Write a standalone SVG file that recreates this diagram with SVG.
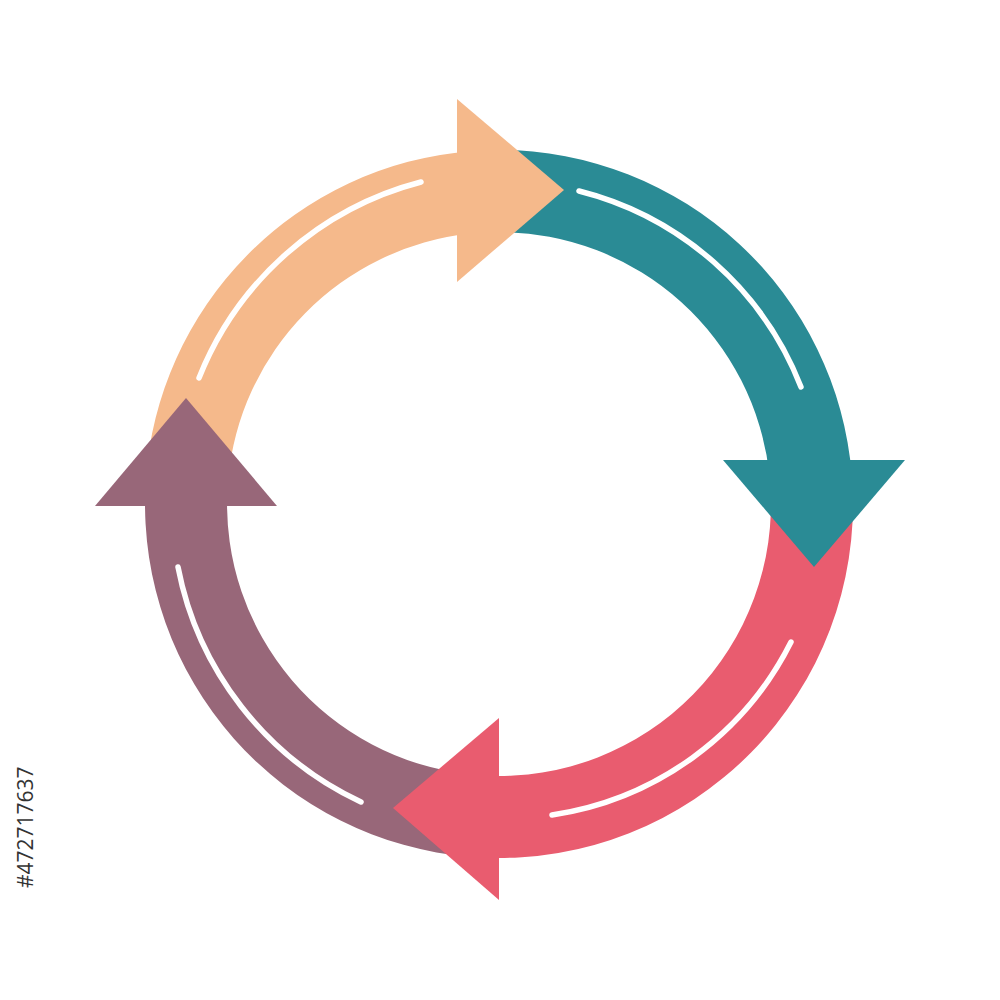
<svg xmlns="http://www.w3.org/2000/svg" width="1000" height="1000" viewBox="0 0 1000 1000">
  <style>
    .orange { fill: #F5B98B; }
    .teal { fill: #2A8B95; }
    .red { fill: #E95C6F; }
    .purple { fill: #986779; }
    .ribbon { fill: none; stroke: #FFFFFF; stroke-width: 5.5; stroke-linecap: round; }
    .stockid { font-family: "Open Sans", "Liberation Sans", sans-serif; font-size: 21px; fill: #333333; }
  </style>
  <rect width="1000" height="1000" fill="#FFFFFF"/>
  <g id="bands">
    <path id="band-orange" class="orange" d="M 145.8 480 A 354 354 0 0 1 470 151.2 L 470 233.6 A 272 272 0 0 0 228.1 480 Z"/>
    <path id="band-teal" class="teal" d="M 500 150 A 354 354 0 0 1 851.8 475 L 769.4 475 A 272 272 0 0 0 500 232 Z"/>
    <path id="band-red" class="red" d="M 852.5 485 A 354 354 0 0 1 485 857.7 L 485 775.6 A 272 272 0 0 0 770.3 485 Z"/>
    <path id="band-purple" class="purple" d="M 470 856.8 A 354 354 0 0 1 145.3 490 L 227.4 490 A 272 272 0 0 0 470 774.4 Z"/>
  </g>
  <g id="ribbons">
    <path class="ribbon" d="M 199 378 A 328 328 0 0 1 421 182"/>
    <path class="ribbon" d="M 579 191 A 323 323 0 0 1 801 387"/>
    <path class="ribbon" d="M 791 642 A 320 320 0 0 1 552 815"/>
    <path class="ribbon" d="M 178 567 A 328 328 0 0 0 361 802"/>
  </g>
  <g id="heads">
    <polygon id="head-orange" class="orange" points="457,99 564,190 457,282"/>
    <polygon id="head-teal" class="teal" points="723,460 905,460 814,567"/>
    <polygon id="head-red" class="red" points="499,718 393,808 499,900"/>
    <polygon id="head-purple" class="purple" points="95,506 186,398 277,506"/>
  </g>
  <text class="stockid" transform="translate(33,888) rotate(-90)" x="0" y="0">#472717637</text>
</svg>
